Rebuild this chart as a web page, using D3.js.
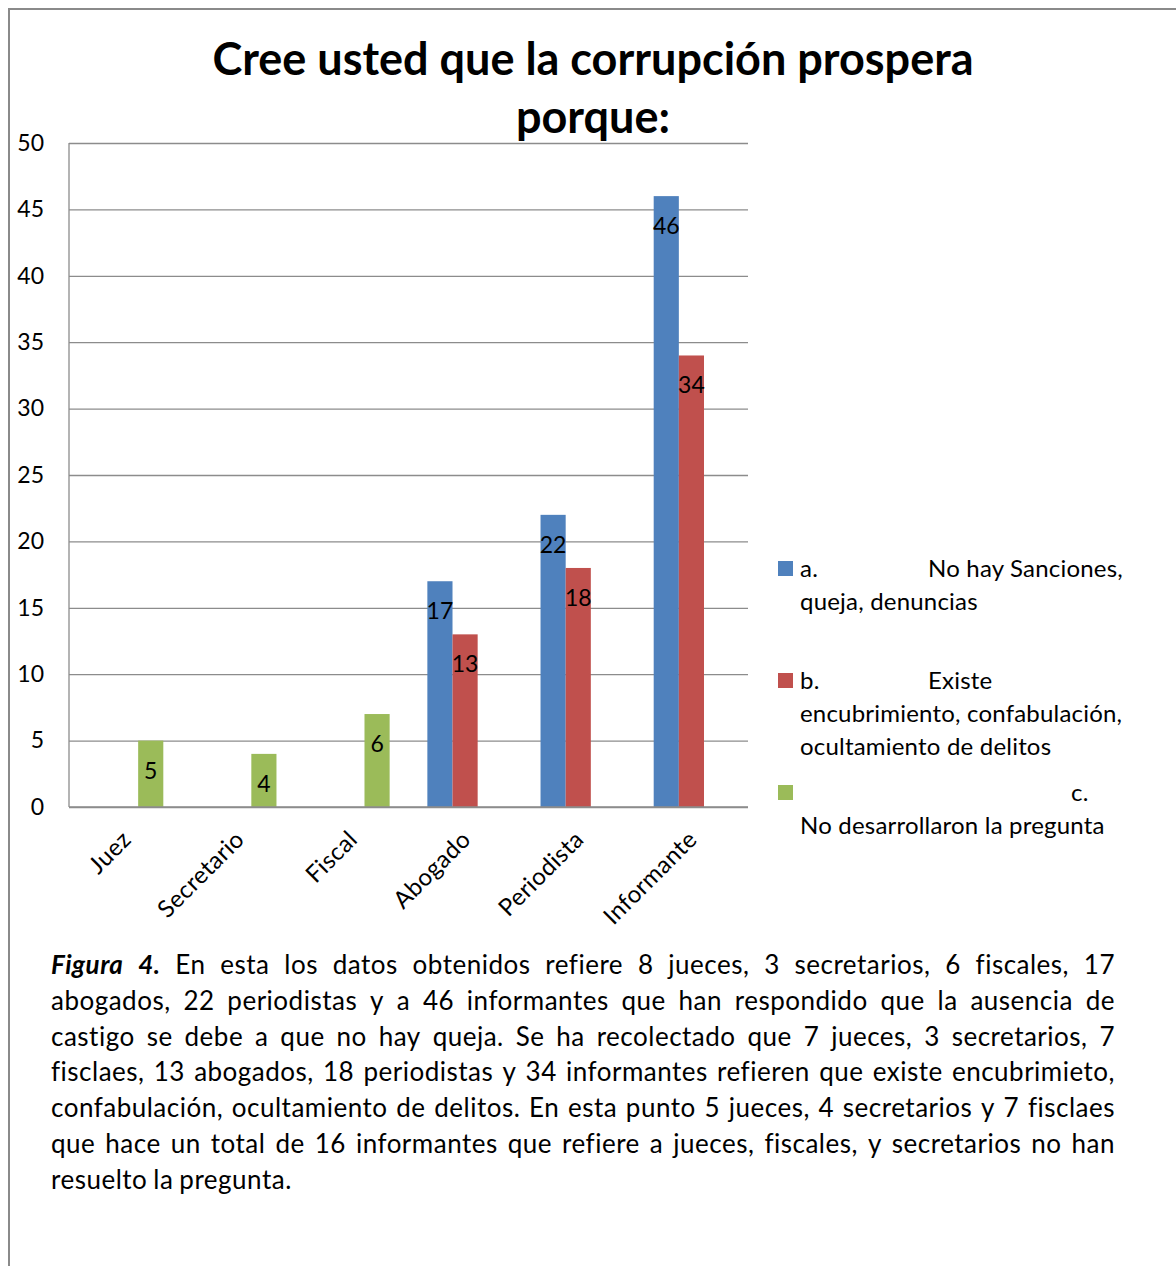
<!DOCTYPE html>
<html>
<head>
<meta charset="utf-8">
<script src="https://cdn.jsdelivr.net/npm/d3@7"></script>
<style>
	html, body { margin: 0; padding: 0; background: #fff; }
	svg { display: block; }
</style>
</head>
<body>
<div id="chart"></div>
<script>
// Data
const categories = ['Juez', 'Secretario', 'Fiscal', 'Abogado', 'Periodista', 'Informante'];
const seriesKeys = ['a', 'b', 'c'];
const seriesNames = [
	['a.', 'No hay Sanciones,', 'queja, denuncias'],
	['b.', 'Existe', 'encubrimiento, confabulación,', 'ocultamiento de delitos'],
	['c.', 'No desarrollaron la pregunta']
];
const valuesA = [null, null, null, 17, 22, 46];
const valuesB = [null, null, null, 13, 18, 34];
const valuesC = [5, 4, 7, null, null, null];
// the data labels as printed (the Fiscal bar reads 6 although it reaches 7)
const labelsC = ['5', '4', '6', null, null, null];
const yTicks = [0, 5, 10, 15, 20, 25, 30, 35, 40, 45, 50];
const titleLines = ['Cree usted que la corrupción prospera', 'porque:'];
const captionLines = [
	'Figura 4. En esta los datos obtenidos  refiere 8 jueces, 3 secretarios, 6 fiscales, 17',
	'abogados,  22 periodistas y a 46 informantes que han respondido  que la ausencia de',
	'castigo se debe a que no  hay queja. Se ha recolectado que 7 jueces, 3 secretarios, 7',
	'fisclaes, 13 abogados, 18 periodistas y 34 informantes refieren que  existe encubrimieto,',
	'confabulación, ocultamiento de delitos. En esta punto 5 jueces, 4 secretarios y 7 fisclaes',
	'que hace un total de 16 informantes que refiere a jueces, fiscales, y secretarios no han',
	'resuelto la pregunta.'
];

var attrs = {
	svgWidth: 1176,
	svgHeight: 1266,
	plotLeft: 69,
	plotRight: 748,
	plotTop: 143,
	plotBottom: 807,
	font: 'Lato, "Open Sans", sans-serif',
	colors: ['#4F81BD', '#C0504D', '#9BBB59'],
	gridColor: '#8c8c8c',
	frameColor: '#8a8a8a'
};

function main() {
	let svg = d3.select('#chart').append('svg')
		.attr('width', attrs.svgWidth)
		.attr('height', attrs.svgHeight)
		.style('font-family', attrs.font);

	// Frame around the chart object
	svg.append('path')
		.attr('d', `M9,${attrs.svgHeight} V9 H${attrs.svgWidth}`)
		.attr('fill', 'none')
		.attr('stroke', attrs.frameColor)
		.attr('stroke-width', 2);

	// Title
	svg.append('text')
		.attr('text-anchor', 'middle')
		.attr('font-weight', 'bold')
		.attr('font-size', 45)
		.attr('fill', '#000')
		.selectAll('tspan')
		.data(titleLines)
		.join('tspan')
		.attr('x', 593)
		.attr('y', (d, i) => 75 + i * 58)
		.text(d => d);

	// Scales
	let x0 = d3.scaleBand()
		.domain(categories)
		.range([attrs.plotLeft, attrs.plotRight]);
	let bw = x0.bandwidth();
	let x1 = d3.scaleBand()
		.domain(seriesKeys)
		.range([bw / 6, bw * 5 / 6]);
	let y = d3.scaleLinear()
		.domain([0, 50])
		.range([attrs.plotBottom, attrs.plotTop]);

	// Gridlines
	let yAxis = d3.axisLeft(y)
		.tickValues(yTicks)
		.tickSize(-(attrs.plotRight - attrs.plotLeft))
		.tickPadding(25);
	let gy = svg.append('g')
		.attr('transform', `translate(${attrs.plotLeft},0)`)
		.call(yAxis);
	gy.select('.domain').remove();
	gy.selectAll('.tick line')
		.attr('stroke', attrs.gridColor)
		.attr('stroke-width', 1.3);
	gy.selectAll('.tick text')
		.attr('font-size', 23)
		.attr('font-family', attrs.font)
		.attr('fill', '#000');

	// Vertical axis line
	svg.append('line')
		.attr('x1', attrs.plotLeft).attr('x2', attrs.plotLeft)
		.attr('y1', attrs.plotTop).attr('y2', attrs.plotBottom)
		.attr('stroke', attrs.gridColor)
		.attr('stroke-width', 1.3);

	// Bars
	let rows = [];
	categories.forEach(function (cat, i) {
		rows.push({ cat: cat, key: 'a', value: valuesA[i], label: valuesA[i] == null ? null : String(valuesA[i]) });
		rows.push({ cat: cat, key: 'b', value: valuesB[i], label: valuesB[i] == null ? null : String(valuesB[i]) });
		rows.push({ cat: cat, key: 'c', value: valuesC[i], label: labelsC[i] });
	});
	rows = rows.filter(d => d.value != null);

	let color = d3.scaleOrdinal().domain(seriesKeys).range(attrs.colors);

	svg.append('g')
		.selectAll('rect')
		.data(rows)
		.join('rect')
		.attr('x', d => x0(d.cat) + x1(d.key))
		.attr('y', d => y(d.value))
		.attr('width', x1.bandwidth())
		.attr('height', d => y(0) - y(d.value))
		.attr('fill', d => color(d.key));

	// Bottom axis line drawn over the bars
	svg.append('line')
		.attr('x1', attrs.plotLeft).attr('x2', attrs.plotRight)
		.attr('y1', y(0)).attr('y2', y(0))
		.attr('stroke', attrs.gridColor)
		.attr('stroke-width', 1.3);

	// Data labels
	svg.append('g')
		.selectAll('text')
		.data(rows)
		.join('text')
		.attr('x', d => x0(d.cat) + x1(d.key) + x1.bandwidth() / 2)
		.attr('y', d => y(d.value) + 38)
		.attr('text-anchor', 'middle')
		.attr('font-size', 23)
		.attr('fill', '#000')
		.text(d => d.label);

	// Category labels, rotated
	svg.append('g')
		.selectAll('text')
		.data(categories)
		.join('text')
		.attr('transform', d => `translate(${x0(d) + bw / 2 + 7},${attrs.plotBottom + 34}) rotate(-45)`)
		.attr('text-anchor', 'end')
		.attr('font-size', 24)
		.attr('letter-spacing', 0.4)
		.attr('fill', '#000')
		.text(d => d);

	// Legend
	let legendTops = [561, 673, 785];
	let legend = svg.append('g')
		.attr('font-size', 24)
		.attr('letter-spacing', 0.2);
	seriesNames.forEach(function (lines, i) {
		let top = legendTops[i];
		legend.append('rect')
			.attr('x', 778).attr('y', top)
			.attr('width', 15).attr('height', 15)
			.attr('fill', attrs.colors[i]);
		let base = top + 15;
		if (i === 2) {
			legend.append('text').attr('x', 1071).attr('y', base + 1).text(lines[0]);
			legend.append('text').attr('x', 800).attr('y', base + 34).text(lines[1]);
		} else {
			legend.append('text').attr('x', 800).attr('y', base + 1).text(lines[0]);
			legend.append('text').attr('x', 928).attr('y', base + 1).text(lines[1]);
			lines.slice(2).forEach(function (l, j) {
				legend.append('text').attr('x', 800).attr('y', base + 34 + j * 33).text(l);
			});
		}
	});

	// Caption, justified word by word
	let capLeft = 51, capRight = 1115;
	let caption = svg.append('g')
		.attr('font-size', 26)
		.attr('letter-spacing', 0.5)
		.attr('fill', '#000');
	captionLines.forEach(function (line, i) {
		let baseY = 974 + i * 35.8;
		let words = line.split(/ +/);
		let nodes = words.map(function (w, j) {
			let t = caption.append('text').attr('y', baseY).text(w);
			if (i === 0 && j < 2) t.attr('font-weight', 'bold').attr('font-style', 'italic');
			return t;
		});
		let widths = nodes.map(n => n.node().getComputedTextLength());
		let total = d3.sum(widths);
		let last = i === captionLines.length - 1;
		let gap = last ? 6 : (capRight - capLeft - total) / (words.length - 1);
		let cx = capLeft;
		nodes.forEach(function (n, j) {
			n.attr('x', cx);
			cx += widths[j] + gap;
		});
	});
}

main();
</script>
</body>
</html>
